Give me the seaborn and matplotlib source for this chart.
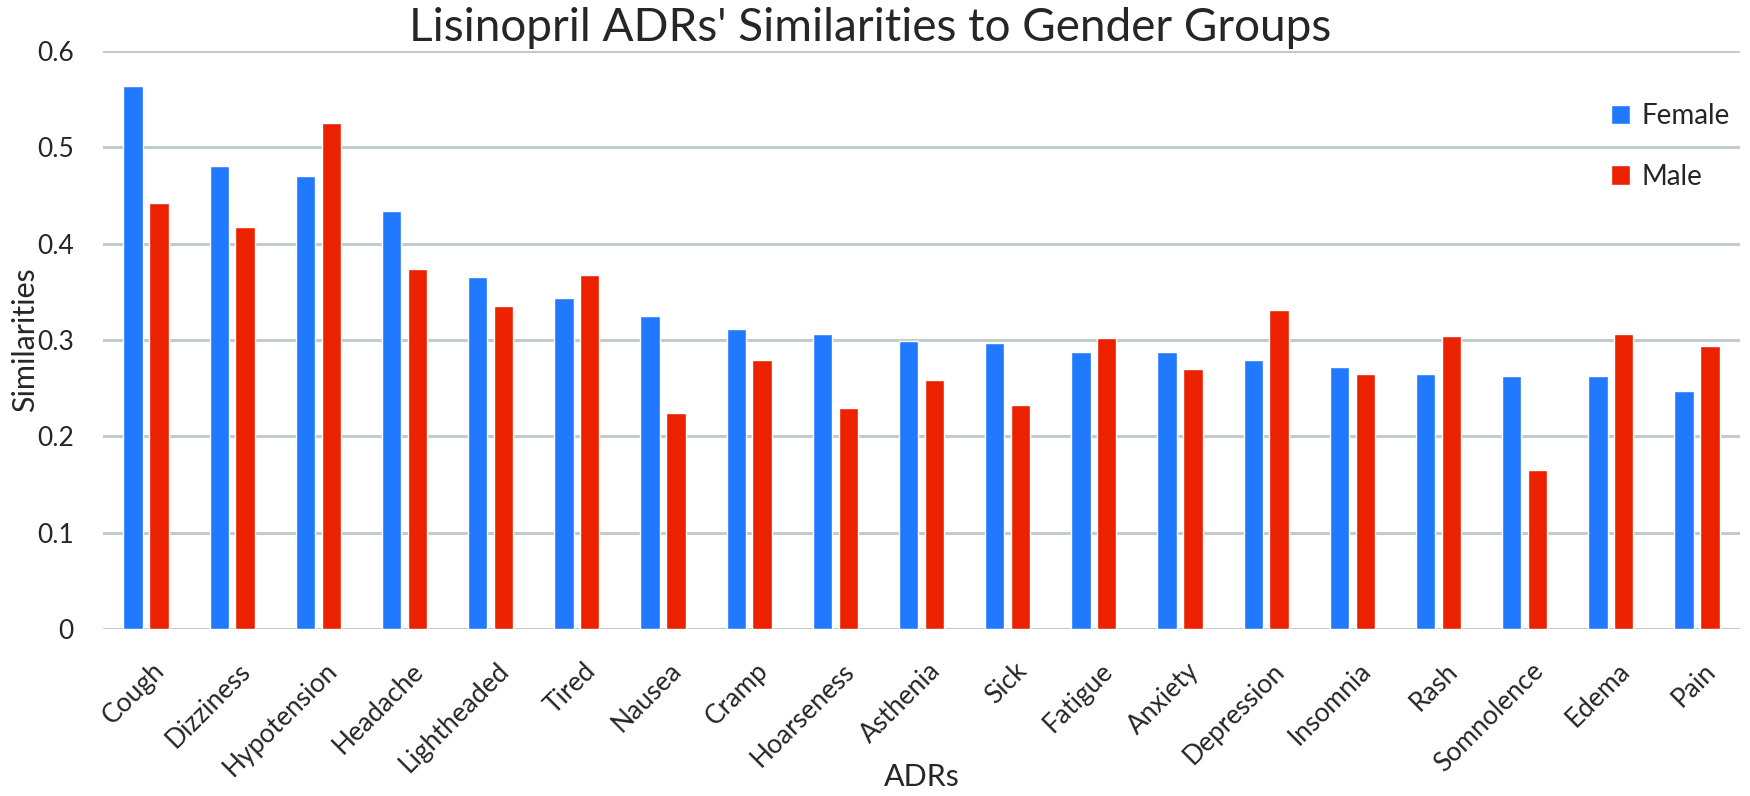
import matplotlib
matplotlib.use("Agg")
import matplotlib.pyplot as plt
import matplotlib.transforms as mtransforms
import seaborn as sns
import pandas as pd

adrs = ["Cough", "Dizziness", "Hypotension", "Headache", "Lightheaded", "Tired",
        "Nausea", "Cramp", "Hoarseness", "Asthenia", "Sick", "Fatigue", "Anxiety",
        "Depression", "Insomnia", "Rash", "Somnolence", "Edema", "Pain"]
female = [0.564, 0.481, 0.470, 0.434, 0.365, 0.344, 0.325, 0.311, 0.306, 0.299,
          0.297, 0.288, 0.288, 0.279, 0.272, 0.265, 0.263, 0.263, 0.247]
male = [0.442, 0.417, 0.525, 0.374, 0.335, 0.367, 0.224, 0.279, 0.229, 0.258,
        0.233, 0.302, 0.270, 0.331, 0.265, 0.304, 0.165, 0.306, 0.294]
groups = ["Female", "Male"]
yticks = [0, 0.1, 0.2, 0.3, 0.4, 0.5, 0.6]
ytick_labels = ["0", "0.1", "0.2", "0.3", "0.4", "0.5", "0.6"]

df = pd.DataFrame({
    "ADR": adrs * 2,
    "Similarity": female + male,
    "Gender": [groups[0]] * len(adrs) + [groups[1]] * len(adrs),
})

sns.set_theme(style="white")
plt.rcParams["font.family"] = ["Lato", "DejaVu Sans"]

W, H = 1750, 796
fig = plt.figure(figsize=(W / 100, H / 100), dpi=100)
ax = fig.add_axes([103 / W, 1 - 629 / H, (1740 - 103) / W, (629 - 51) / H])

sns.barplot(data=df, x="ADR", y="Similarity", hue="Gender", order=adrs,
            hue_order=groups, palette={"Female": "#2079FF", "Male": "#EB2100"},
            width=0.6, gap=0.25, ax=ax, zorder=3, saturation=1, legend=True)

ax.set_ylim(0, 0.6)
ax.set_xlim(-0.5, len(adrs) - 0.5)
ax.set_yticks(yticks)
ax.set_yticklabels(ytick_labels, fontsize=19)
ax.yaxis.grid(True, color="#C3CCCC", linewidth=2.2, zorder=0)
ax.xaxis.grid(False)
ax.set_axisbelow(True)
for s in ax.spines.values():
    s.set_visible(False)
ax.tick_params(axis="y", length=0, pad=21)
ax.tick_params(axis="x", length=0, pad=21, labelrotation=45)

ax.set_xticks(range(len(adrs)))
ax.set_xticklabels(adrs, fontsize=19, rotation=45,
                   rotation_mode="anchor", ha="right", va="top")
offset = mtransforms.ScaledTranslation(6 / 100, 0, fig.dpi_scale_trans)
for lab in ax.get_xticklabels():
    lab.set_transform(lab.get_transform() + offset)

ax.set_ylabel("Similarities", fontsize=22)
ax.yaxis.set_label_coords((39 - 103) / (1740 - 103), 0.5)
ax.set_xlabel("ADRs", fontsize=22)
ax.xaxis.set_label_coords(0.5, (629 - 763) / (629 - 51))

fig.text(0.497, 1 - 41 / H, "Lisinopril ADRs' Similarities to Gender Groups",
         fontsize=33, ha="center", va="baseline")

leg = ax.legend(loc="upper left", bbox_to_anchor=(1586 / W, 1 - 78 / H),
                bbox_transform=fig.transFigure, frameon=False, fontsize=20,
                labelspacing=1.25, handlelength=0.7, handleheight=0.7,
                handletextpad=0.4, title=None)

fig.savefig("out.png", dpi=100, facecolor="white")
